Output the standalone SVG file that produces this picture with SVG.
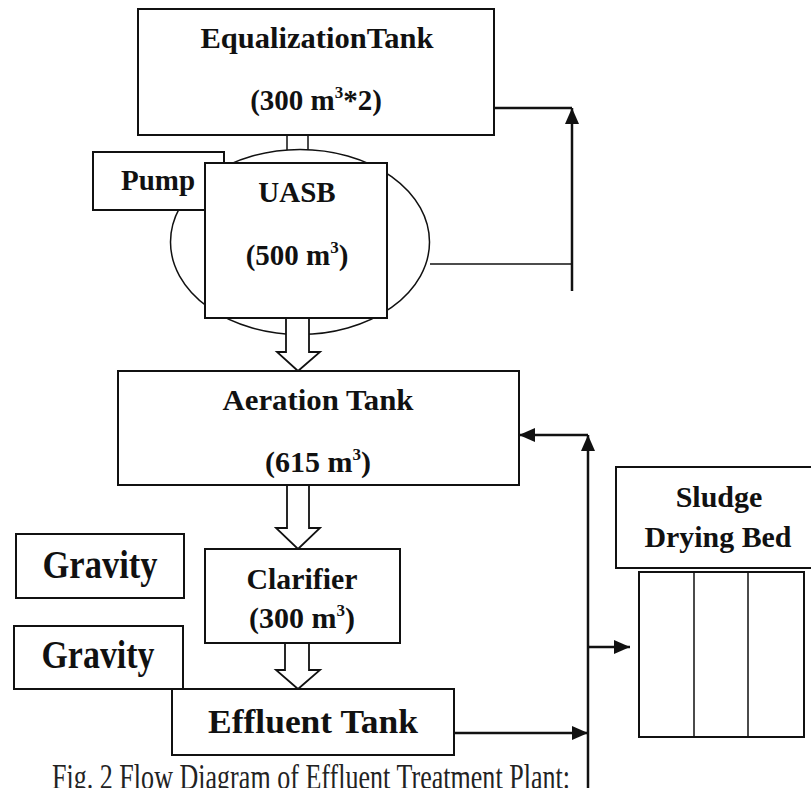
<svg xmlns="http://www.w3.org/2000/svg" width="811" height="788" viewBox="0 0 811 788">
<defs>
<style>
.box{fill:#fff;stroke:#111;stroke-width:2}
.thin{fill:#fff;stroke:#111;stroke-width:1.5}
.t{font-family:"Liberation Serif","Times New Roman",serif;font-weight:bold;fill:#111;text-anchor:middle}
.sup{font-size:17px}
.ln{fill:none;stroke:#111;stroke-width:2.5}
.ln2{fill:none;stroke:#111;stroke-width:1.5}
.hollow{fill:#fff;stroke:#111;stroke-width:1.8;stroke-linejoin:miter}
.cap{font-family:"Liberation Serif","Times New Roman",serif;font-size:26px;fill:#222}
</style>
<marker id="ah" viewBox="0 0 16 14" refX="16" refY="7" markerWidth="16" markerHeight="14" markerUnits="userSpaceOnUse" orient="auto">
<path d="M0,0 L16,7 L0,14 z" fill="#111"/>
</marker>
</defs>
<rect width="811" height="788" fill="#fff"/>

<g id="connectors">
<path class="ln2" d="M287,135 V160 M308,135 V160"/>
<path class="ln" d="M494,108 H572"/>
<path class="ln" d="M572,291 V108" marker-end="url(#ah)"/>
<path class="ln2" d="M430,264 H572"/>
<path class="ln" d="M588,788 V435" marker-end="url(#ah)"/>
<path class="ln" d="M588,435 H519" marker-end="url(#ah)"/>
<path class="ln" d="M454,733 H588" marker-end="url(#ah)"/>
<path class="ln" d="M588,647 H630" marker-end="url(#ah)"/>
</g>

<g id="equalization">
<rect class="box" x="138" y="9" width="356" height="126"/>
<text class="t" x="317" y="48" font-size="29" textLength="233" lengthAdjust="spacingAndGlyphs">EqualizationTank</text>
<text class="t" x="316" y="110" font-size="29">(300 m<tspan class="sup" dy="-12">3</tspan><tspan dy="12">*2)</tspan></text>
</g>

<g id="uasb">
<ellipse class="thin" cx="300" cy="242" rx="129.5" ry="92.5"/>
<g id="pump">
<rect class="box" x="93" y="152" width="131" height="58"/>
<text class="t" x="158" y="190" font-size="29">Pump</text>
</g>
<rect class="box" x="205" y="163" width="182" height="155"/>
<text class="t" x="297" y="202" font-size="29">UASB</text>
<text class="t" x="297" y="265" font-size="29">(500 m<tspan class="sup" dy="-12">3</tspan><tspan dy="12">)</tspan></text>
</g>

<g id="arrow1">
<polygon class="hollow" points="286,318 309,318 309,352 320,352 298,371 277,352 286,352"/>
</g>

<g id="aeration">
<rect class="box" x="118" y="371" width="401" height="114"/>
<text class="t" x="318" y="410" font-size="30" textLength="191" lengthAdjust="spacingAndGlyphs">Aeration Tank</text>
<text class="t" x="318" y="472" font-size="30">(615 m<tspan class="sup" dy="-12">3</tspan><tspan dy="12">)</tspan></text>
</g>

<g id="arrow2">
<polygon class="hollow" points="287,485 309,485 309,528 320,528 298,549 276,528 287,528"/>
</g>

<g id="gravity1">
<rect class="box" x="16" y="534" width="168" height="64"/>
<text class="t" transform="translate(100,578) scale(1,1.12)" font-size="35" textLength="115" lengthAdjust="spacingAndGlyphs">Gravity</text>
</g>

<g id="clarifier">
<rect class="box" x="205" y="549" width="195" height="94"/>
<text class="t" x="302" y="589" font-size="30" textLength="111" lengthAdjust="spacingAndGlyphs">Clarifier</text>
<text class="t" x="302" y="628" font-size="30">(300 m<tspan class="sup" dy="-12">3</tspan><tspan dy="12">)</tspan></text>
</g>

<g id="arrow3">
<polygon class="hollow" points="285,643 309,643 309,670 320,670 298,689 276,670 285,670"/>
</g>

<g id="gravity2">
<rect class="box" x="14" y="626" width="169" height="63"/>
<text class="t" transform="translate(98,668) scale(1,1.12)" font-size="35" textLength="113" lengthAdjust="spacingAndGlyphs">Gravity</text>
</g>

<g id="effluent">
<rect class="box" x="172" y="689" width="282" height="66"/>
<text class="t" x="313" y="733" font-size="34" textLength="210" lengthAdjust="spacingAndGlyphs">Effluent Tank</text>
</g>

<g id="sludge">
<rect class="box" x="616" y="467" width="205" height="101"/>
<text class="t" x="719" y="507" font-size="30">Sludge</text>
<text class="t" x="718" y="547" font-size="30" textLength="147" lengthAdjust="spacingAndGlyphs">Drying Bed</text>
<rect class="box" x="639" y="572" width="165" height="165"/>
<path class="ln2" d="M694,572 V737 M748,572 V737" stroke-width="2"/>
</g>

<text class="cap" transform="translate(52,789) scale(1,1.4)" textLength="518" lengthAdjust="spacing">Fig. 2 Flow Diagram of Effluent Treatment Plant:</text>
</svg>
